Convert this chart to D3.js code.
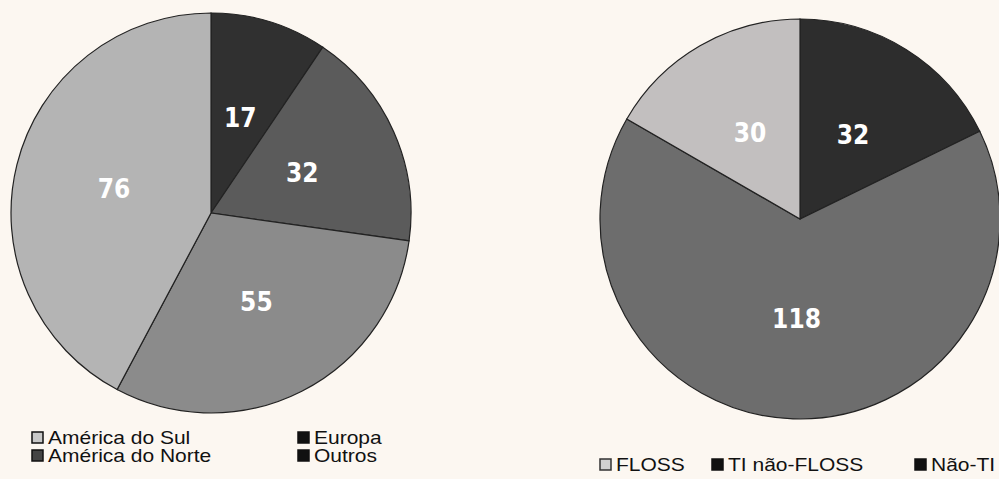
<!DOCTYPE html>
<html>
<head>
<meta charset="utf-8">
<script src="https://cdn.jsdelivr.net/npm/d3@7"></script>
<style>
  body { margin: 0; background: #fcf7f1; }
  svg { display: block; }
</style>
</head>
<body>
<div id="chart"></div>
<script>
// left pie: region of origin
var regions = ["América do Sul", "América do Norte", "Europa", "Outros"],
    regionValues = [76, 55, 32, 17],
    regionColors = ["#b4b4b4", "#8b8b8b", "#5b5b5b", "#303030"];

// right pie: area
var areas = ["FLOSS", "TI não-FLOSS", "Não-TI"],
    areaValues = [30, 118, 32],
    areaColors = ["#c2bfbf", "#6d6d6d", "#2d2d2d"];

var width = 999,
    height = 479,
    radius = 200;

var svg = d3.select("#chart").append("svg")
    .attr("width", width)
    .attr("height", height);

svg.append("rect")
    .attr("width", width)
    .attr("height", height)
    .attr("fill", "#fcf7f1");

// slices go clockwise from 12 o'clock in reverse legend order
var pie = d3.pie()
    .sort(null)
    .value(function(d) { return d.value; });

var arc = d3.arc()
    .innerRadius(0)
    .outerRadius(radius);

function drawPie(cx, cy, names, values, colors) {
  var data = names.map(function(n, i) {
    return { name: n, value: values[i], color: colors[i] };
  }).reverse();

  var g = svg.append("g")
      .attr("transform", "translate(" + cx + "," + cy + ")");

  g.selectAll("path")
      .data(pie(data))
    .enter().append("path")
      .attr("d", arc)
      .attr("fill", function(d) { return d.data.color; })
      .attr("stroke", "#222")
      .attr("stroke-width", 1.2);

  g.selectAll("text")
      .data(pie(data))
    .enter().append("text")
      .attr("transform", function(d) {
        var c = arc.centroid(d);
        return "translate(" + c[0] + "," + c[1] + ") scale(0.9,1)";
      })
      .attr("text-anchor", "middle")
      .attr("dy", "0.36em")
      .attr("fill", "#fff")
      .style("font-family", "DejaVu Sans")
      .style("font-weight", "bold")
      .style("font-size", "26px")
      .text(function(d) { return d.data.value; });
}

drawPie(211, 213, regions, regionValues, regionColors);
drawPie(800, 219, areas, areaValues, areaColors);

// legend helper
function legendItem(x, y, label, fill, stroke) {
  svg.append("rect")
      .attr("x", x)
      .attr("y", y - 12)
      .attr("width", 11)
      .attr("height", 11)
      .attr("fill", fill)
      .attr("stroke", stroke)
      .attr("stroke-width", 1.5);
  svg.append("text")
      .attr("transform", "translate(" + (x + 16) + "," + y + ") scale(1.2,1)")
      .attr("fill", "#111")
      .style("font-family", "Liberation Sans, Arial, sans-serif")
      .style("font-size", "17.5px")
      .text(label);
}

legendItem(32, 444, regions[0], "#c8c8c8", "#111");
legendItem(32, 462, regions[1], "#444", "#111");
legendItem(298, 444, regions[2], "#111", "#111");
legendItem(298, 462, regions[3], "#111", "#111");

legendItem(600, 471, areas[0], "#d0d0d0", "#333");
legendItem(712, 471, areas[1], "#111", "#111");
legendItem(915, 471, areas[2], "#111", "#111");
</script>
</body>
</html>
